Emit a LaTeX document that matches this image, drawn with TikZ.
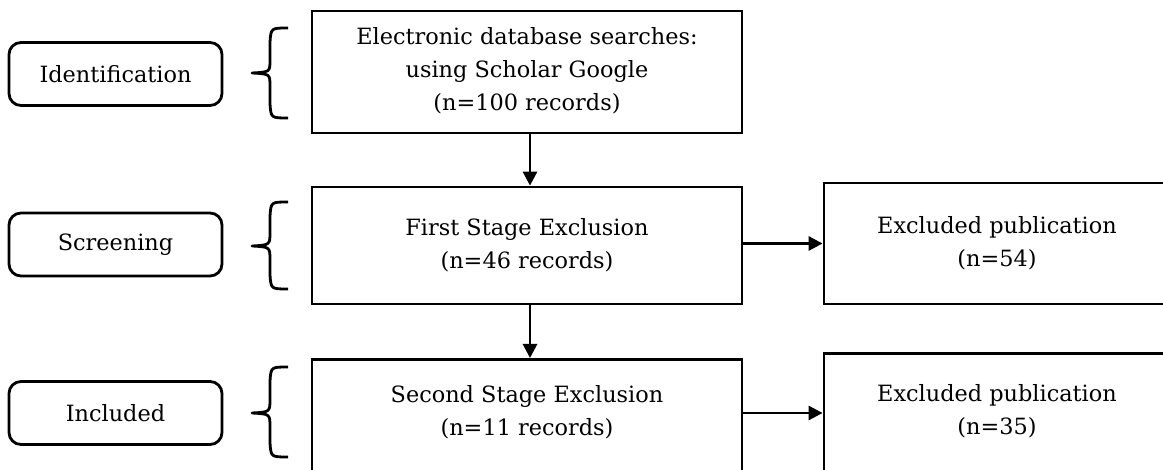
\documentclass[tikz,border=0pt]{standalone}
\usepackage{fontspec}
\setmainfont{DejaVu Serif}
\usetikzlibrary{arrows.meta}
\begin{document}
\begin{tikzpicture}[x=1pt,y=-1pt,
  lw/.style={line width=2.8pt},
  stagebox/.style={draw,lw,rounded corners=12pt,minimum width=213pt,minimum height=63pt,inner sep=0pt,font=\fontsize{22.4}{33}\selectfont},
  flowbox/.style={draw,lw,inner sep=0pt,align=center},
  txt/.style={inner sep=0pt,align=center,font=\fontsize{22.4}{33}\selectfont},
  arr/.style={lw,-{Triangle[length=14pt,width=14pt]}},
  brace/.style={lw,line join=round}]
\useasboundingbox (0,0) rectangle (1163,470);
\clip (0,0) rectangle (1163,470);
% stage labels
\node[stagebox] (s1) at (115.5,74) {Identification};
\node[stagebox] (s2) at (115.5,244.5) {Screening};
\node[stagebox] (s3) at (115.5,413) {Included};
% braces
\draw[brace] (288,28) .. controls (271,28) .. (270,42) -- (270,60) .. controls (270,72) .. (252,73)
  .. controls (270,74) .. (270,86) -- (270,104) .. controls (271,118) .. (288,118);
\draw[brace] (288,202) .. controls (271,202) .. (270,216) -- (270,232) .. controls (270,245) .. (252,246)
  .. controls (270,247) .. (270,260) -- (270,275) .. controls (271,289) .. (288,289);
\draw[brace] (288,367) .. controls (271,367) .. (270,381) -- (270,399) .. controls (270,412) .. (252,413)
  .. controls (270,414) .. (270,427) -- (270,443) .. controls (271,457) .. (288,457);
% flow boxes
\node[flowbox,minimum width=430pt,minimum height=122pt] (b1) at (527,72) {};
\node[txt] (t1) at (527,71) {Electronic database searches:\\using Scholar Google\\(n=100 records)};
\node[flowbox,minimum width=430pt,minimum height=117pt] (b2) at (527,245.5) {};
\node[txt] (t2) at (527,245.5) {First Stage Exclusion\\(n=46 records)};
\node[flowbox,minimum width=346pt,minimum height=121pt] (b3) at (997,243.5) {};
\node[txt] (t3) at (997,243.5) {Excluded publication\\(n=54)};
\node[flowbox,minimum width=430pt,minimum height=140pt,anchor=north] (b4) at (527,358) {};
\node[txt] (t4) at (527,412.5) {Second Stage Exclusion\\(n=11 records)};
\node[flowbox,minimum width=346pt,minimum height=140pt,anchor=north] (b5) at (997,352) {};
\node[txt] (t5) at (997,411.5) {Excluded publication\\(n=35)};
% connectors
\draw[arr] ([xshift=3pt]b1.south) -- ([xshift=3pt]b2.north);
\draw[arr] ([xshift=3pt]b2.south) -- ([xshift=3pt]b4.north);
\draw[arr] (b3.west -| b2.east) -- (b3.west);
\draw[arr] ([yshift=-1.5pt]b4.east |- t5) -- ([yshift=-1.5pt]b5.west |- t5);
\end{tikzpicture}
\end{document}
